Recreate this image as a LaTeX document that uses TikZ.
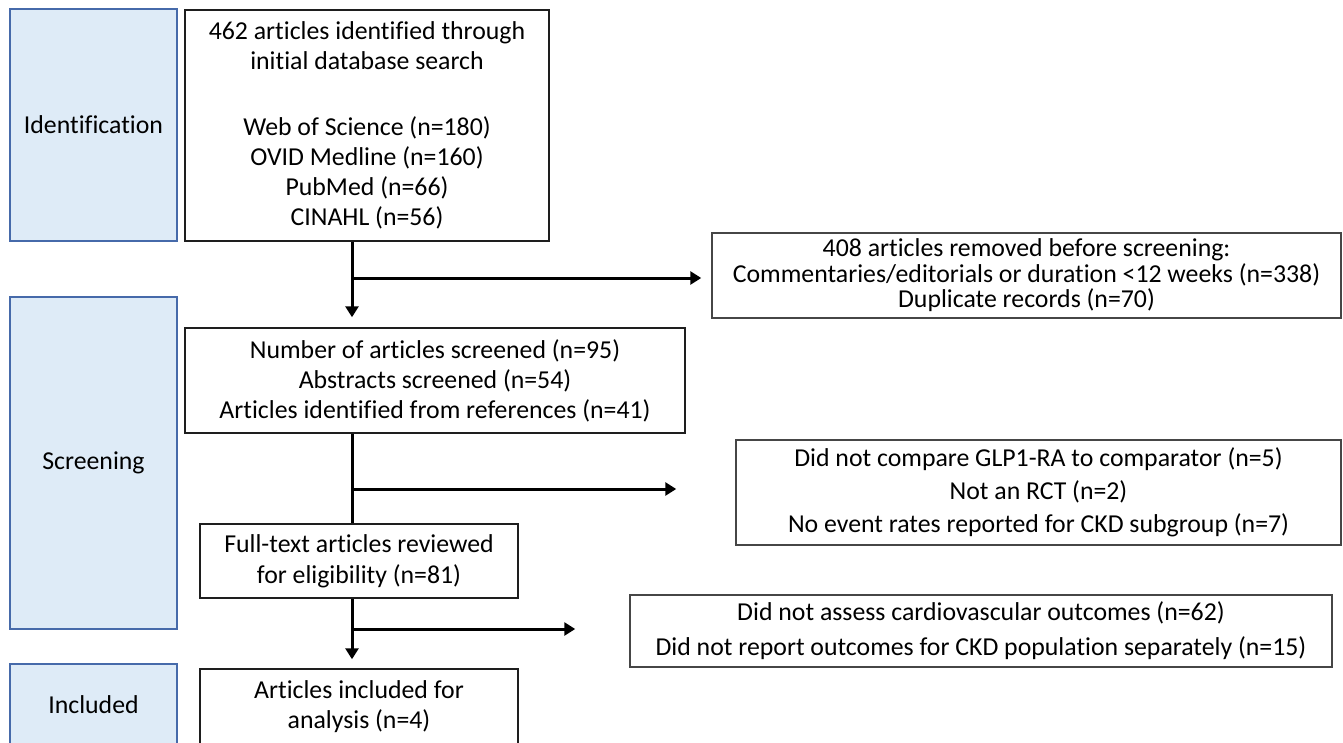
\documentclass[tikz,border=0pt]{standalone}
\usepackage{fontspec}
\setmainfont{Carlito}[Ligatures=NoCommon]
\usetikzlibrary{arrows.meta,calc}
\definecolor{stagefill}{RGB}{222,235,247}
\definecolor{stageline}{RGB}{70,106,170}
\definecolor{boxline}{RGB}{30,30,30}
\definecolor{exline}{RGB}{70,70,70}
\begin{document}
\begin{tikzpicture}[x=1pt,y=-1pt,
  stage/.style={draw=stageline, line width=2pt, fill=stagefill, inner sep=0pt,
    font=\fontsize{25.8}{30}\selectfont},
  box/.style={draw=boxline, line width=1.5pt, inner sep=0pt, align=center},
  exbox/.style={draw=exline, line width=1.5pt, inner sep=0pt, align=center},
  arr/.style={line width=3pt, -{Triangle[length=11pt,width=13pt]}},
  ln/.style={line width=3pt}]
\clip (0,0) rectangle (1343,742);
\fill[white] (0,0) rectangle (1343,742);

% stage boxes
\node[stage, minimum width=167pt, minimum height=232pt] (sid) at (93.5,125) {Identification};
\node[stage, minimum width=167pt, minimum height=332pt] (ssc) at (93.5,463) {Screening};
\node[stage, minimum width=167pt, minimum height=82pt] (sin) at (93.5,705) {Included};

% main boxes
\node[box, minimum width=364pt, minimum height=231pt,
  font=\fontsize{25.8}{30}\selectfont] (b1) at (367,125.5)
  {462 articles identified through\\initial database search\\[36pt]
   Web of Science (n=180)\\OVID Medline (n=160)\\PubMed (n=66)\\CINAHL (n=56)};
\node[box, minimum width=500pt, minimum height=105pt,
  font=\fontsize{25.8}{30}\selectfont] (b2) at (435,380.5)
  {Number of articles screened (n=95)\\Abstracts screened (n=54)\\Articles identified from references (n=41)};
\node[box, minimum width=318pt, minimum height=74pt,
  font=\fontsize{25.8}{31}\selectfont] (b3) at (359,561)
  {Full-text articles reviewed\\for eligibility (n=81)};
\node[box, minimum width=318pt, minimum height=76pt,
  font=\fontsize{25.8}{30}\selectfont] (b4) at (359,707)
  {Articles included for\\analysis (n=4)};

% exclusion boxes
\node[exbox, minimum width=629pt, minimum height=85pt,
  font=\fontsize{25.8}{25.5}\selectfont] (ex0) at (1026.5,275.5)
  {408 articles removed before screening:\\Commentaries/editorials or duration {<}12 weeks (n=338)\\Duplicate records (n=70)};
\node[exbox, minimum width=605pt, minimum height=105pt,
  font=\fontsize{25.8}{33}\selectfont] (ex1) at (1038.5,492.5)
  {Did not compare GLP1-RA to comparator (n=5)\\Not an RCT (n=2)\\No event rates reported for CKD subgroup (n=7)};
\node[exbox, minimum width=702pt, minimum height=72pt,
  font=\fontsize{25.8}{35}\selectfont] (ex2) at (981,631)
  {Did not assess cardiovascular outcomes (n=62)\\Did not report outcomes for CKD population separately (n=15)};

% connectors
\coordinate (sp) at (352,0);
\coordinate (j1) at (352,278);
\coordinate (j2) at (352,489);
\coordinate (j3) at (352,629);
\draw[arr, shorten >=10pt] (b1.south -| sp) -- (b2.north -| sp);
\draw[arr, shorten >=10pt] (j1) -- (j1 -| ex0.west);
\draw[ln] (b2.south -| sp) -- (b3.north -| sp);
\draw[arr, shorten >=59pt] (j2) -- (j2 -| ex1.west);
\draw[arr, shorten >=9pt] (b3.south -| sp) -- (b4.north -| sp);
\draw[arr, shorten >=54pt] (j3) -- (j3 -| ex2.west);
\end{tikzpicture}
\end{document}
